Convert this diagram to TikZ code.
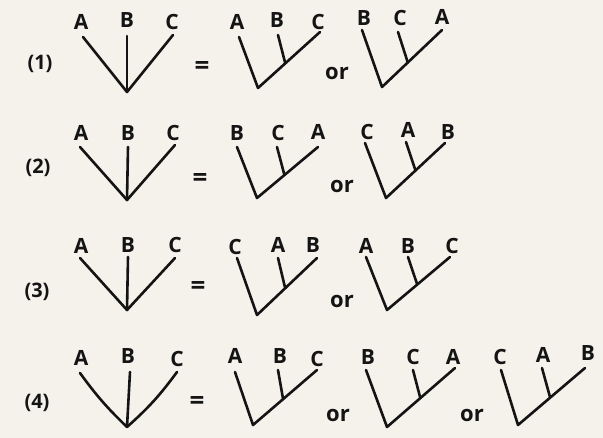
\documentclass[tikz,border=0pt]{standalone}
\usepackage{fontspec}
\setmainfont{Open Sans}
\usetikzlibrary{calc}
\definecolor{paper}{RGB}{244,242,234}
\definecolor{ink}{RGB}{20,20,20}
\begin{document}
\begin{tikzpicture}[x=1pt,y=-1pt,
  lbl/.style={font=\fontsize{21}{21}\selectfont\bfseries, text=ink, inner sep=0pt},
  num/.style={font=\fontsize{20}{20}\selectfont\bfseries, text=ink, inner sep=0pt},
  ortxt/.style={font=\fontsize{22}{22}\selectfont\bfseries, text=ink, inner sep=0pt},
  eq/.style={font=\fontsize{26}{26}\selectfont\bfseries, text=ink, inner sep=0pt},
  branch/.style={draw=ink, line width=2.6pt, line cap=round, line join=round}]
\path[fill=paper] (0,0) rectangle (603,438);
\useasboundingbox (0,0) rectangle (603,438);

% ===================== Row 1 =====================
\node[num] (n1) at (40,64) {(1)};
% trichotomy
\node[lbl] (r1aA) at (81,22) {A};
\node[lbl] (r1aB) at (127,20) {B};
\node[lbl] (r1aC) at (172,22) {C};
\coordinate (r1aa) at (83,37); \coordinate (r1ab) at (127,36); \coordinate (r1ac) at (173,35);
\coordinate (r1ar) at (127,92);
\draw[branch] (r1aa) -- (r1ar) -- (r1ac); \draw[branch] (r1ab) -- (r1ar);
\node[eq] (e1) at (202,68) {=};
% A B C  ((A,(B,C)))
\node[lbl] (r1bA) at (237,22) {A};
\node[lbl] (r1bB) at (277,20) {B};
\node[lbl] (r1bC) at (318,22) {C};
\coordinate (r1ba) at (239,37); \coordinate (r1bb) at (278,35); \coordinate (r1bc) at (320,32);
\coordinate (r1br) at (258,88);
\coordinate (r1bj) at ($(r1br)!0.44!(r1bc)$);
\draw[branch] (r1ba) -- (r1br) -- (r1bc); \draw[branch] (r1bb) -- (r1bj);
\node[ortxt] (o1) at (337,73) {or};
% B C A
\node[lbl] (r1cB) at (364,18) {B};
\node[lbl] (r1cC) at (400,18) {C};
\node[lbl] (r1cA) at (442,17) {A};
\coordinate (r1ca) at (362,30); \coordinate (r1cb) at (398,32); \coordinate (r1cc) at (442,30);
\coordinate (r1cr) at (382,87);
\coordinate (r1cj) at ($(r1cr)!0.43!(r1cc)$);
\draw[branch] (r1ca) -- (r1cr) -- (r1cc); \draw[branch] (r1cb) -- (r1cj);

% ===================== Row 2 =====================
\node[num] (n2) at (38,168) {(2)};
\node[lbl] (r2aA) at (81,133) {A};
\node[lbl] (r2aB) at (128,133) {B};
\node[lbl] (r2aC) at (173,133) {C};
\coordinate (r2aa) at (80,147); \coordinate (r2ab) at (128,147); \coordinate (r2ac) at (175,145);
\coordinate (r2ar) at (127,200);
\draw[branch] (r2aa) -- (r2ar) -- (r2ac); \draw[branch] (r2ab) -- (r2ar);
\node[eq] (e2) at (200,180) {=};
% B C A
\node[lbl] (r2bB) at (237,133) {B};
\node[lbl] (r2bC) at (278,133) {C};
\node[lbl] (r2bA) at (318,132) {A};
\coordinate (r2ba) at (237,147); \coordinate (r2bb) at (277,147); \coordinate (r2bc) at (318,147);
\coordinate (r2br) at (257,198);
\coordinate (r2bj) at ($(r2br)!0.45!(r2bc)$);
\draw[branch] (r2ba) -- (r2br) -- (r2bc); \draw[branch] (r2bb) -- (r2bj);
\node[ortxt] (o2) at (342,186) {or};
% C A B
\node[lbl] (r2cC) at (367,132) {C};
\node[lbl] (r2cA) at (408,130) {A};
\node[lbl] (r2cB) at (448,132) {B};
\coordinate (r2ca) at (365,143); \coordinate (r2cb) at (406,142); \coordinate (r2cc) at (445,143);
\coordinate (r2cr) at (386,198);
\coordinate (r2cj) at ($(r2cr)!0.5!(r2cc)$);
\draw[branch] (r2ca) -- (r2cr) -- (r2cc); \draw[branch] (r2cb) -- (r2cj);

% ===================== Row 3 =====================
\node[num] (n3) at (37,292) {(3)};
\node[lbl] (r3aA) at (81,246) {A};
\node[lbl] (r3aB) at (128,245) {B};
\node[lbl] (r3aC) at (175,245) {C};
\coordinate (r3aa) at (80,258); \coordinate (r3ab) at (128,257); \coordinate (r3ac) at (175,258);
\coordinate (r3ar) at (127,310);
\draw[branch] (r3aa) -- (r3ar) -- (r3ac); \draw[branch] (r3ab) -- (r3ar);
\node[eq] (e3) at (198,288) {=};
% C A B
\node[lbl] (r3bC) at (235,247) {C};
\node[lbl] (r3bA) at (278,245) {A};
\node[lbl] (r3bB) at (313,245) {B};
\coordinate (r3ba) at (237,258); \coordinate (r3bb) at (278,258); \coordinate (r3bc) at (317,258);
\coordinate (r3br) at (257,315);
\coordinate (r3bj) at ($(r3br)!0.47!(r3bc)$);
\draw[branch] (r3ba) -- (r3br) -- (r3bc); \draw[branch] (r3bb) -- (r3bj);
\node[ortxt] (o3) at (342,301) {or};
% A B C
\node[lbl] (r3cA) at (366,246) {A};
\node[lbl] (r3cB) at (408,246) {B};
\node[lbl] (r3cC) at (452,246) {C};
\coordinate (r3ca) at (366,257); \coordinate (r3cb) at (408,257); \coordinate (r3cc) at (450,257);
\coordinate (r3cr) at (387,310);
\coordinate (r3cj) at ($(r3cr)!0.48!(r3cc)$);
\draw[branch] (r3ca) -- (r3cr) -- (r3cc); \draw[branch] (r3cb) -- (r3cj);

% ===================== Row 4 =====================
\node[num] (n4) at (37,403) {(4)};
\node[lbl] (r4aA) at (81,358) {A};
\node[lbl] (r4aB) at (128,356) {B};
\node[lbl] (r4aC) at (177,359) {C};
\coordinate (r4aa) at (80,373); \coordinate (r4ab) at (130,372); \coordinate (r4ac) at (177,372);
\coordinate (r4ar) at (127,427);
\draw[branch] (r4aa) to[bend right=5] (r4ar);
\draw[branch] (r4ac) to[bend left=6] (r4ar);
\draw[branch] (r4ab) -- (r4ar);
\node[eq] (e4) at (197,403) {=};
% A B C
\node[lbl] (r4bA) at (235,356) {A};
\node[lbl] (r4bB) at (280,356) {B};
\node[lbl] (r4bC) at (317,359) {C};
\coordinate (r4ba) at (235,372); \coordinate (r4bb) at (278,370); \coordinate (r4bc) at (317,370);
\coordinate (r4br) at (253,425);
\coordinate (r4bj) at ($(r4br)!0.47!(r4bc)$);
\draw[branch] (r4ba) -- (r4br) -- (r4bc); \draw[branch] (r4bb) -- (r4bj);
\node[ortxt] (o4) at (338,415) {or};
% B C A
\node[lbl] (r4cB) at (368,357) {B};
\node[lbl] (r4cC) at (413,357) {C};
\node[lbl] (r4cA) at (453,357) {A};
\coordinate (r4ca) at (366,370); \coordinate (r4cb) at (413,370); \coordinate (r4cc) at (455,368);
\coordinate (r4cr) at (387,427);
\coordinate (r4cj) at ($(r4cr)!0.49!(r4cc)$);
\draw[branch] (r4ca) -- (r4cr) -- (r4cc); \draw[branch] (r4cb) -- (r4cj);
\node[ortxt] (o5) at (472,415) {or};
% C A B
\node[lbl] (r4dC) at (500,357) {C};
\node[lbl] (r4dA) at (543,355) {A};
\node[lbl] (r4dB) at (588,353) {B};
\coordinate (r4da) at (501,370); \coordinate (r4db) at (542,368); \coordinate (r4dc) at (585,368);
\coordinate (r4dr) at (518,425);
\coordinate (r4dj) at ($(r4dr)!0.48!(r4dc)$);
\draw[branch] (r4da) -- (r4dr) -- (r4dc); \draw[branch] (r4db) -- (r4dj);
\end{tikzpicture}
\end{document}
